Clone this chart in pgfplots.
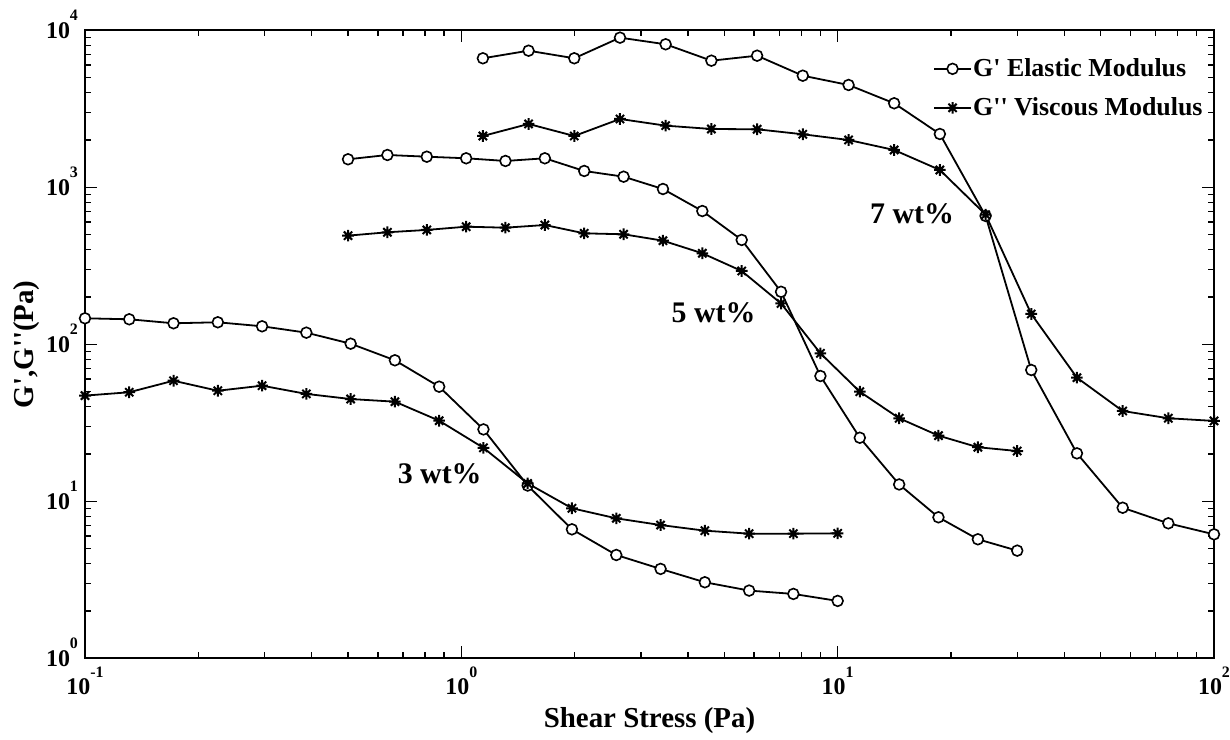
\documentclass[border=0pt]{standalone}
\usepackage{fontspec}
\setmainfont{Liberation Serif}[Ligatures=TeXOff]
\usepackage{pgfplots}
\pgfplotsset{compat=1.18}

% eight-armed asterisk (plus and cross superposed)
\pgfdeclareplotmark{star8}{%
  \pgfpathmoveto{\pgfqpoint{-\pgfplotmarksize}{0pt}}\pgfpathlineto{\pgfqpoint{\pgfplotmarksize}{0pt}}%
  \pgfpathmoveto{\pgfqpoint{0pt}{-\pgfplotmarksize}}\pgfpathlineto{\pgfqpoint{0pt}{\pgfplotmarksize}}%
  \pgfpathmoveto{\pgfqpoint{-0.7071\pgfplotmarksize}{-0.7071\pgfplotmarksize}}\pgfpathlineto{\pgfqpoint{0.7071\pgfplotmarksize}{0.7071\pgfplotmarksize}}%
  \pgfpathmoveto{\pgfqpoint{-0.7071\pgfplotmarksize}{0.7071\pgfplotmarksize}}\pgfpathlineto{\pgfqpoint{0.7071\pgfplotmarksize}{-0.7071\pgfplotmarksize}}%
  \pgfusepathqstroke}

% power-of-ten tick label
\newcommand\pw[1]{10\raisebox{8.6bp}[0pt][0pt]{\fontsize{8}{8}\selectfont #1}}

\pgfplotstableread{
x       gp      gpp
0.1     146.4   47.1
0.1311  144.3   49.5
0.1719  136.1   58.6
0.2254  138.1   50.6
0.2955  130.2   54.5
0.3875  118.6   48.3
0.5080  100.9   44.8
0.6661  79.1    43.1
0.8733  53.7    32.6
1.145   28.7    21.9
1.501   12.6    13.0
1.968   6.63    9.03
2.581   4.55    7.79
3.384   3.71    7.06
4.437   3.05    6.50
5.818   2.70    6.22
7.628   2.57    6.22
10      2.32    6.25
}\wtthree

\pgfplotstableread{
x       gp      gpp
0.5     1508    492
0.6362  1606    517
0.8095  1566    535
1.030   1530    561
1.310   1471    553
1.667   1530    575
2.121   1270    509
2.699   1168    502
3.434   975     457
4.369   706     380
5.559   462     293
7.073   216     182
8.999   62.8    87.6
11.45   25.4    49.9
14.57   12.8    33.8
18.53   7.91    26.2
23.58   5.73    22.1
30.0    4.85    20.9
}\wtfive

\pgfplotstableread{
x       gp      gpp
1.141   6632    2122
1.509   7413    2531
1.996   6632    2122
2.640   8974    2723
3.491   8143    2469
4.618   6403    2351
6.108   6890    2341
8.078   5138    2176
10.69   4483    2001
14.13   3428    1728
18.69   2185    1289
24.72   657     670
32.69   68.6    156
43.23   20.2    61.3
57.19   9.1     37.6
75.62   7.24    33.8
100     6.16    32.5
}\wtseven

\pgfplotsset{
  elastic/.style={black, line width=0.9bp, mark=*, mark size=2.7bp,
    mark options={fill=white, line width=0.8bp, solid}},
  viscous/.style={black, line width=0.9bp, mark=star8, mark size=2.9bp,
    mark options={line width=1bp, solid}},
}

\begin{document}
\begin{tikzpicture}
\useasboundingbox (-42.5bp,-40.85bp) rectangle (572.5bp,329.15bp);
\begin{axis}[
  at={(0,0)}, anchor=south west, scale only axis,
  width=564.5bp, height=314bp,
  xmode=log, ymode=log,
  xmin=0.1, xmax=100, ymin=1, ymax=10000,
  axis line style={line width=0.9bp},
  tick align=inside, xtick pos=both, ytick pos=both,
  major tick length=6bp, minor tick length=3bp,
  every tick/.style={black, line width=0.7bp},
  xtick={0.1,1,10,100},
  xticklabels={\pw{-1},\pw{0},\pw{1},\pw{2}},
  minor xtick={0.2,0.3,0.4,0.5,0.6,0.7,0.8,0.9,2,3,4,5,6,7,8,9,20,30,40,50,60,70,80,90},
  ytick={1,10,100,1000,10000},
  yticklabels={\pw{0},\pw{1},\pw{2},\pw{3},\pw{4}},
  minor ytick={2,3,4,5,6,7,8,9,20,30,40,50,60,70,80,90,200,300,400,500,600,700,800,900,2000,3000,4000,5000,6000,7000,8000,9000},
  ticklabel style={font=\fontsize{12}{12}\selectfont\bfseries},
  xticklabel style={yshift=-6.5bp},
  xlabel={Shear Stress (Pa)},
  ylabel={G',G''(Pa)},
  label style={font=\fontsize{14.5}{14.5}\selectfont\bfseries},
  xlabel style={at={(axis description cs:0.5,0)}, anchor=center, yshift=-30.9bp},
  ylabel style={at={(axis description cs:-0.0514,0.5)}, anchor=center},
  clip=false,
  legend style={at={(axis description cs:0.7509,0.9575)}, anchor=north west,
    draw=none, fill=none, inner sep=0pt, row sep=8bp,
    font=\fontsize{13}{13}\selectfont\bfseries,
    nodes={inner xsep=0.6bp, inner ysep=0.5bp}},
  legend cell align=left,
  legend image code/.code={
    \draw[#1, mark repeat=2, mark phase=2]
      plot coordinates {(0bp,0bp) (9.25bp,0bp) (18.5bp,0bp)};},
]
\addplot[elastic] table[x=x, y=gp] {\wtthree};
\addlegendentry{G' Elastic Modulus}
\addplot[viscous] table[x=x, y=gpp] {\wtthree};
\addlegendentry{G'' Viscous Modulus}
\addplot[elastic, forget plot] table[x=x, y=gp] {\wtfive};
\addplot[viscous, forget plot] table[x=x, y=gpp] {\wtfive};
\addplot[elastic, forget plot] table[x=x, y=gp] {\wtseven};
\addplot[viscous, forget plot] table[x=x, y=gpp] {\wtseven};

\node[font=\fontsize{15}{15}\selectfont\bfseries] at (axis cs:0.876,14.9) {3 wt\%};
\node[font=\fontsize{15}{15}\selectfont\bfseries] at (axis cs:4.68,158) {5 wt\%};
\node[font=\fontsize{15}{15}\selectfont\bfseries] at (axis cs:15.76,681) {7 wt\%};
\end{axis}
\end{tikzpicture}
\end{document}
